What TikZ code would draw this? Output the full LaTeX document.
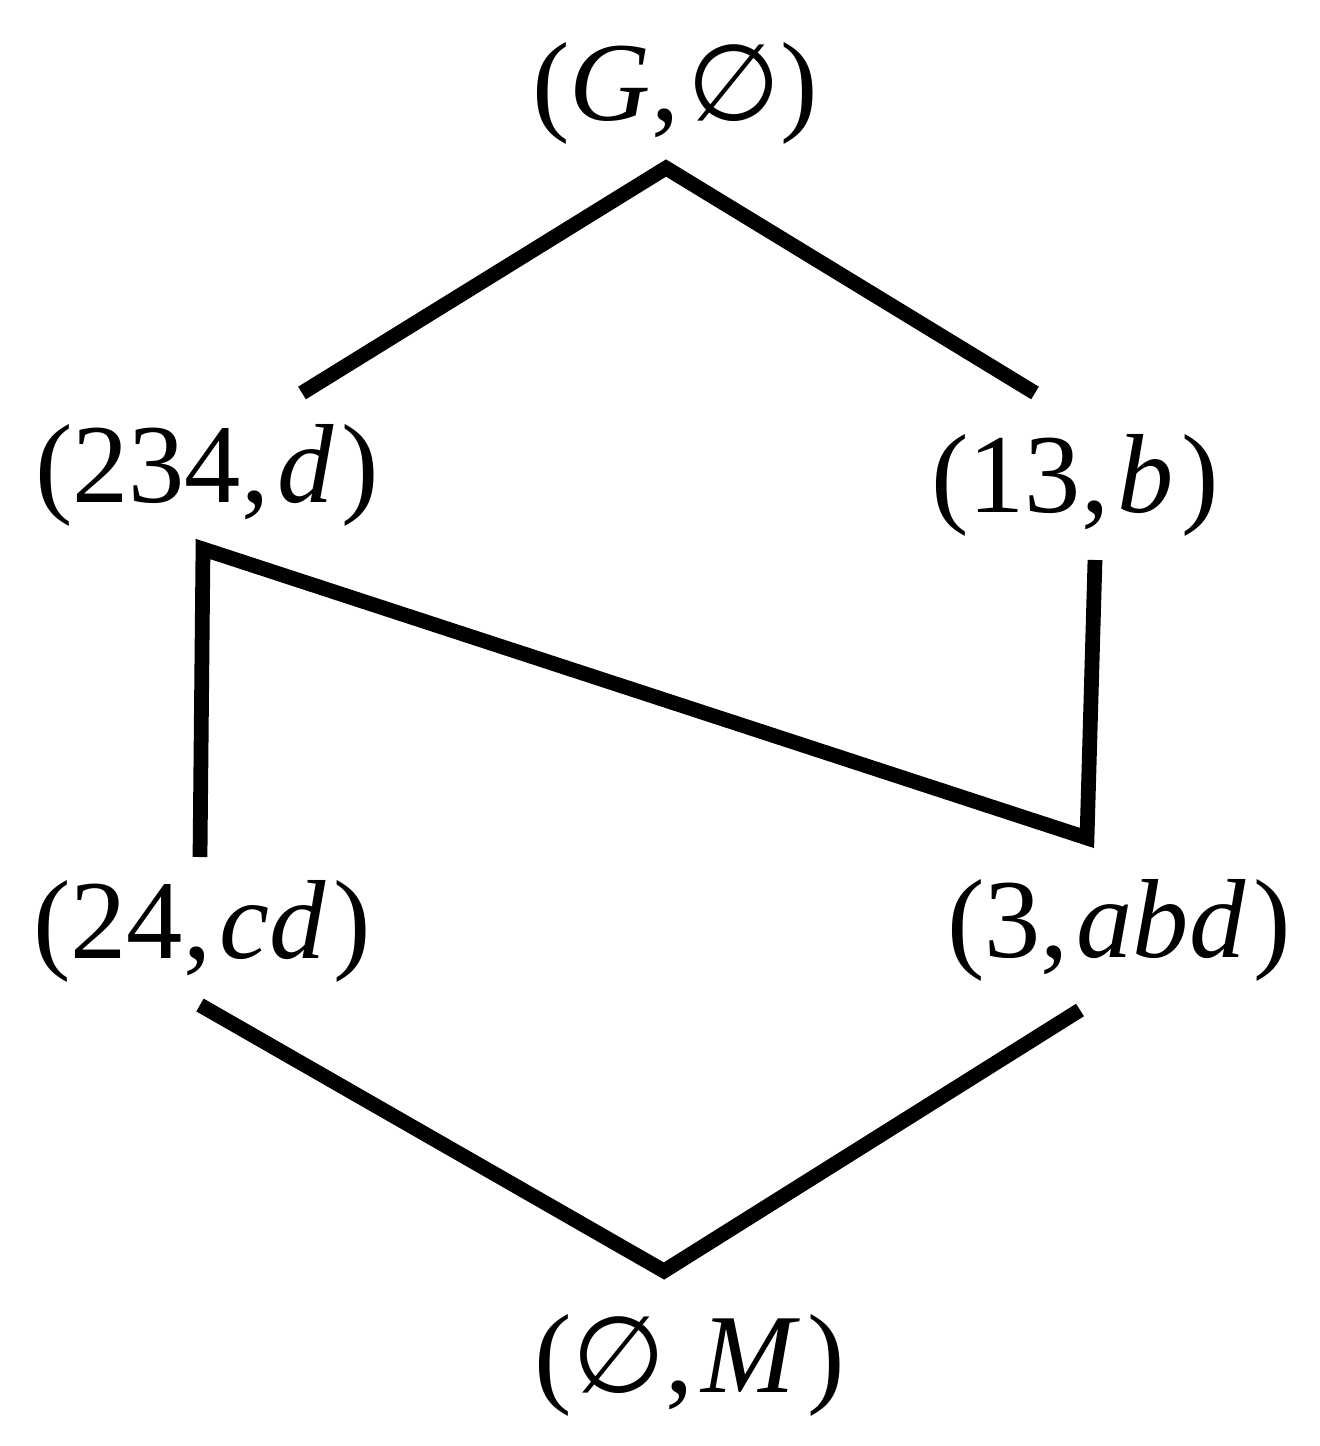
\documentclass[tikz,border=0pt]{standalone}
\usepackage{fontspec}
\setmainfont{Liberation Serif}
\newfontfamily\esfont[Scale=0.95]{DejaVu Sans}
\newcommand{\eset}{{\esfont ∅}}
\newcommand{\gap}{\hspace{0.07em}}
\usepackage{tikz}

\begin{document}
\begin{tikzpicture}
[every node/.style={font=\fontsize{32}{38}\selectfont, anchor=base, inner sep=0pt},
 edge/.style={line width=4.2pt}]
\useasboundingbox (0,0) rectangle (13.2,-14.46);
% Define the concepts
\node (top) at (6.75,-1.20) {(\textit{G},\gap\eset)};
\node (c234) at (2.07,-5.02) {(234,\gap\textit{d}\gap)};
\node (c13) at (10.75,-5.12) {(13,\gap\textit{b}\gap)};
\node (c24) at (2.02,-9.58) {(24,\gap\textit{cd}\gap)};
\node (c3) at (11.19,-9.57) {(3,\gap\textit{abd}\gap)};
\node (bot) at (6.90,-13.92) {(\eset,\gap\textit{M}\gap)};

% Line ends below and above the concepts
\coordinate (top_s) at (6.66,-1.68);
\coordinate (c234_n) at (3.02,-3.93);
\coordinate (c13_n) at (10.35,-3.93);
\coordinate (c234_s) at (2.03,-5.49);
\coordinate (c13_s) at (10.95,-5.60);
\coordinate (c24_n) at (2.00,-8.57);
\coordinate (c3_n) at (10.87,-8.38);
\coordinate (c24_s) at (2.00,-10.05);
\coordinate (c3_s) at (10.80,-10.10);
\coordinate (bot_n) at (6.64,-12.71);

\draw [edge] (c234_n) -- (top_s) -- (c13_n);
\draw [edge] (c24_n) -- (c234_s) -- (c3_n) -- (c13_s);
\draw [edge] (c24_s) -- (bot_n) -- (c3_s);
\end{tikzpicture}
\end{document}
